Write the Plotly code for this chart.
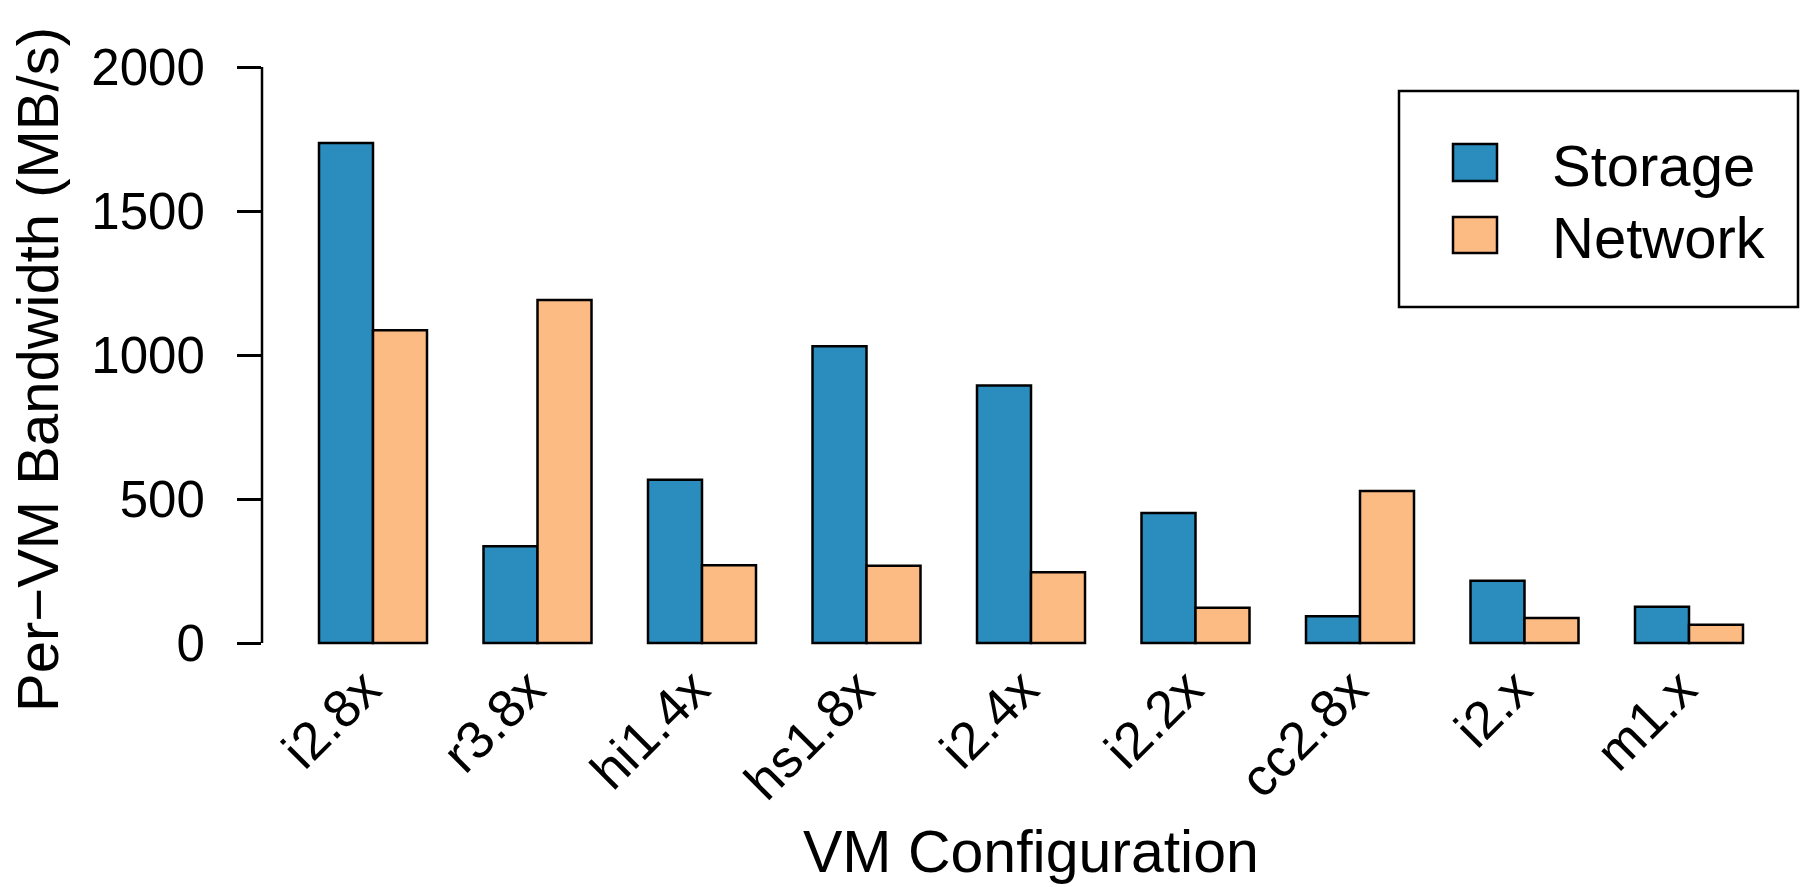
import plotly.graph_objects as go

categories = ["i2.8x", "r3.8x", "hi1.4x", "hs1.8x", "i2.4x", "i2.2x", "cc2.8x", "i2.x", "m1.x"]
storage = [1736, 336, 567, 1030, 894, 451, 93, 216, 126]
network = [1086, 1191, 270, 268, 246, 122, 528, 87, 63]
series_names = ["Storage", "Network"]
y_ticks = [0, 500, 1000, 1500, 2000]

C_STORAGE = "#2B8CBE"
C_NETWORK = "#FDBB84"
FONT = "Liberation Sans, Arial, Helvetica, sans-serif"

W, H = 1803, 887
PL, PR, PT, PB = 262, 1790, 40, 646  # plot area pixel bounds


def px(xp):
    return (xp - PL) / (PR - PL)


def py(yp):
    return (PB - yp) / (PB - PT)


fig = go.Figure()
fig.add_trace(go.Bar(x=categories, y=storage, name=series_names[0],
                     marker=dict(color=C_STORAGE, line=dict(color="black", width=2.5)),
                     showlegend=False))
fig.add_trace(go.Bar(x=categories, y=network, name=series_names[1],
                     marker=dict(color=C_NETWORK, line=dict(color="black", width=2.5)),
                     showlegend=False))

shapes = [
    # y axis line from first to last tick (R style)
    dict(type="line", xref="paper", yref="y", x0=0, x1=0, y0=y_ticks[0], y1=y_ticks[-1],
         line=dict(color="black", width=2.5)),
    # legend box
    dict(type="rect", xref="paper", yref="paper", x0=px(1399), x1=px(1798), y0=py(307), y1=py(91),
         line=dict(color="black", width=2.5), fillcolor="rgba(0,0,0,0)"),
    dict(type="rect", xref="paper", yref="paper", x0=px(1453), x1=px(1497), y0=py(181), y1=py(144),
         line=dict(color="black", width=2.5), fillcolor=C_STORAGE),
    dict(type="rect", xref="paper", yref="paper", x0=px(1453), x1=px(1497), y0=py(253), y1=py(217),
         line=dict(color="black", width=2.5), fillcolor=C_NETWORK),
]

annotations = [
    dict(text=series_names[0], xref="paper", yref="paper", x=px(1550), y=py(165),
         xanchor="left", yanchor="middle", showarrow=False,
         font=dict(family=FONT, size=58, color="black")),
    dict(text=series_names[1], xref="paper", yref="paper", x=px(1550), y=py(237),
         xanchor="left", yanchor="middle", showarrow=False,
         font=dict(family=FONT, size=58, color="black")),
    dict(text="Per\u2212VM Bandwidth (MB/s)", xref="paper", yref="paper", x=px(37), y=py(370),
         xanchor="center", yanchor="middle", textangle=-90, showarrow=False,
         font=dict(family=FONT, size=58, color="black")),
    dict(text="VM Configuration", xref="paper", yref="paper", x=px(1031), y=py(852),
         xanchor="center", yanchor="middle", showarrow=False,
         font=dict(family=FONT, size=59, color="black")),
]

# x: category index 0 at pixel 373, 164.5 px per category
x0_px, pitch = 373, 164.5
xr = [(PL - x0_px) / pitch, (PR - x0_px) / pitch]
# y: 0 at 643 px, 2000 at 67 px
ppu = (643 - 67) / 2000
yr = [-(PB - 643) / ppu, 2000 + (67 - PT) / ppu]

fig.update_layout(
    width=W, height=H,
    margin=dict(l=PL, r=W - PR, t=PT, b=H - PB, pad=0),
    paper_bgcolor="white", plot_bgcolor="white",
    barmode="group", bargap=0.3435, bargroupgap=0,
    font=dict(family=FONT, color="black"),
    shapes=shapes, annotations=annotations,
    xaxis=dict(range=xr, showline=False, showgrid=False, zeroline=False, ticks="",
               tickangle=-45, tickfont=dict(family=FONT, size=53, color="black"),
               ticklabelstandoff=0, ticklabelshift=-8),
    yaxis=dict(range=yr, showline=False, showgrid=False, zeroline=False,
               tickvals=y_ticks, ticktext=[str(v) for v in y_ticks],
               ticks="outside", ticklen=24, tickwidth=2.5, tickcolor="black",
               tickfont=dict(family=FONT, size=51, color="black"),
               ticklabelstandoff=22),
)

fig.write_html("out.html", config={"displayModeBar": False},
               post_script="document.body.style.margin='0';document.body.style.overflow='hidden';")
